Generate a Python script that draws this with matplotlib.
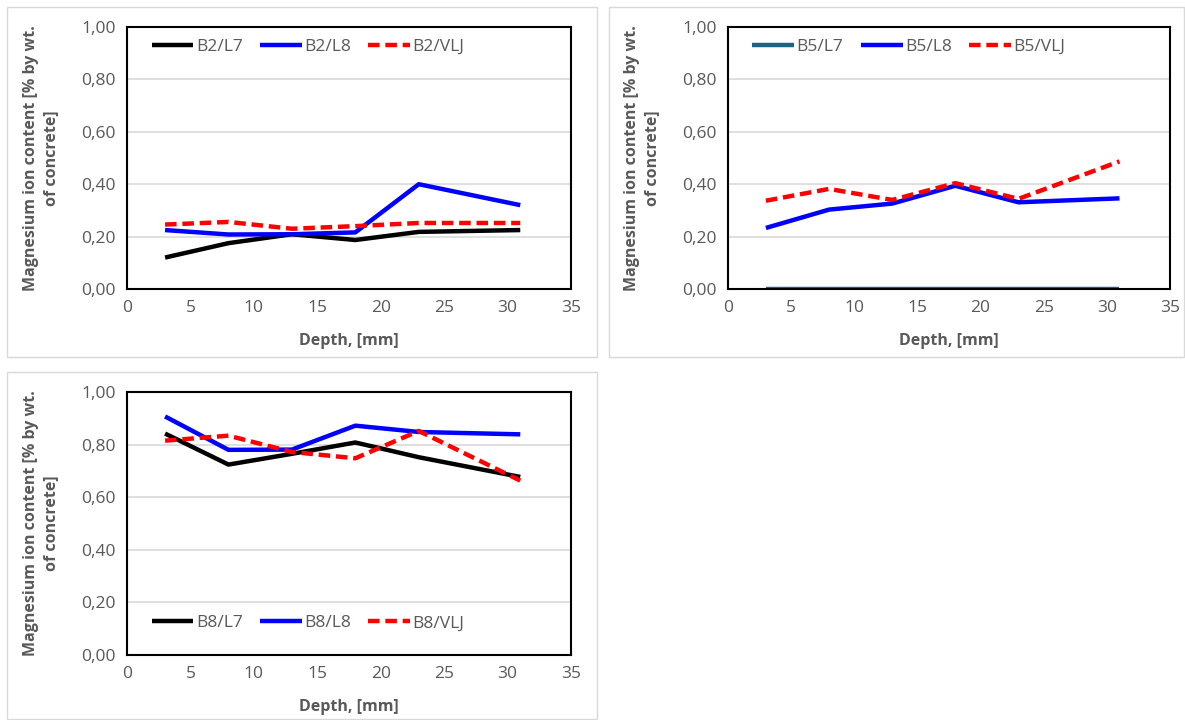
import matplotlib
matplotlib.use("Agg")
import matplotlib.pyplot as plt
from matplotlib.patches import Rectangle
from matplotlib.ticker import FuncFormatter, MultipleLocator

depth = [3, 8, 13, 18, 23, 31]

b2_l7 = [0.12, 0.175, 0.209, 0.187, 0.218, 0.225]
b2_l8 = [0.225, 0.208, 0.209, 0.216, 0.40, 0.32]
b2_vlj = [0.246, 0.256, 0.23, 0.24, 0.252, 0.252]

b5_l7 = [0.0, 0.0, 0.0, 0.0, 0.0, 0.0]
b5_l8 = [0.233, 0.303, 0.326, 0.394, 0.331, 0.346]
b5_vlj = [0.337, 0.382, 0.34, 0.404, 0.344, 0.487]

b8_l7 = [0.842, 0.724, 0.765, 0.808, 0.752, 0.677]
b8_l8 = [0.907, 0.78, 0.781, 0.872, 0.848, 0.839]
b8_vlj = [0.815, 0.834, 0.772, 0.748, 0.852, 0.663]

panels = [
    (["B2/L7", "B2/L8", "B2/VLJ"], [b2_l7, b2_l8, b2_vlj], ["#000000", "#0000FF", "#FF0000"], "upper"),
    (["B5/L7", "B5/L8", "B5/VLJ"], [b5_l7, b5_l8, b5_vlj], ["#1F6282", "#0000FF", "#FF0000"], "upper"),
    (["B8/L7", "B8/L8", "B8/VLJ"], [b8_l7, b8_l8, b8_vlj], ["#000000", "#0000FF", "#FF0000"], "lower"),
]

plt.rcParams['font.family'] = ['Open Sans', 'DejaVu Sans']

W, H = 1185, 720
fig = plt.figure(figsize=(W / 100, H / 100), dpi=100)
fig.patch.set_facecolor("white")

frames = [(7, 7, 597, 357), (609, 7, 1184, 357), (7, 372, 597, 719)]
for (x0, y0, x1, y1) in frames:
    fig.patches.append(Rectangle((x0 / W, 1 - y1 / H), (x1 - x0) / W, (y1 - y0) / H,
                                 transform=fig.transFigure, fill=False,
                                 edgecolor="#d9d9d9", linewidth=1.0))

axes_px = [(127, 27, 571, 289), (728, 27, 1170, 289), (127, 392, 571, 655)]

fmt = FuncFormatter(lambda v, p: f"{v:.2f}".replace(".", ","))

for (names, series, colors, legpos), (x0, y0, x1, y1) in zip(panels, axes_px):
    ax = fig.add_axes([x0 / W, 1 - y1 / H, (x1 - x0) / W, (y1 - y0) / H])
    for name, vals, col in zip(names, series, colors):
        ls = "--" if "VLJ" in name else "-"
        ax.plot(depth, vals, color=col, linewidth=3.2, linestyle=ls, label=name,
                dashes=(2.6, 1.3) if ls == "--" else (None, None), solid_capstyle="butt")
    ax.set_xlim(0, 35)
    ax.set_ylim(0, 1.0)
    ax.xaxis.set_major_locator(MultipleLocator(5))
    ax.yaxis.set_major_locator(MultipleLocator(0.2))
    ax.yaxis.set_major_formatter(fmt)
    ax.grid(axis="y", color="#d9d9d9", linewidth=1.2)
    ax.set_axisbelow(True)
    for s in ax.spines.values():
        s.set_color("#000000")
        s.set_linewidth(1.5)
    ax.tick_params(length=0, labelsize=12.5, labelcolor="#595959", pad=8)
    ax.set_xlabel("Depth, [mm]", fontsize=11.5, fontweight="bold", color="#595959", labelpad=12)
    ax.set_ylabel("Magnesium ion content [% by wt.\nof concrete]", fontsize=11.5,
                  fontweight="bold", color="#595959", labelpad=16, linespacing=1.35)
    if legpos == "upper":
        loc, anchor = "upper left", (0.02, 1.015)
    else:
        loc, anchor = "lower left", (0.02, 0.03)
    ax.legend(loc=loc, bbox_to_anchor=anchor, ncol=3, frameon=False,
              fontsize=12.5, handlelength=2.4, columnspacing=1.0, handletextpad=0.15,
              labelcolor="#595959")

fig.savefig("out.png", dpi=100, facecolor="white")
